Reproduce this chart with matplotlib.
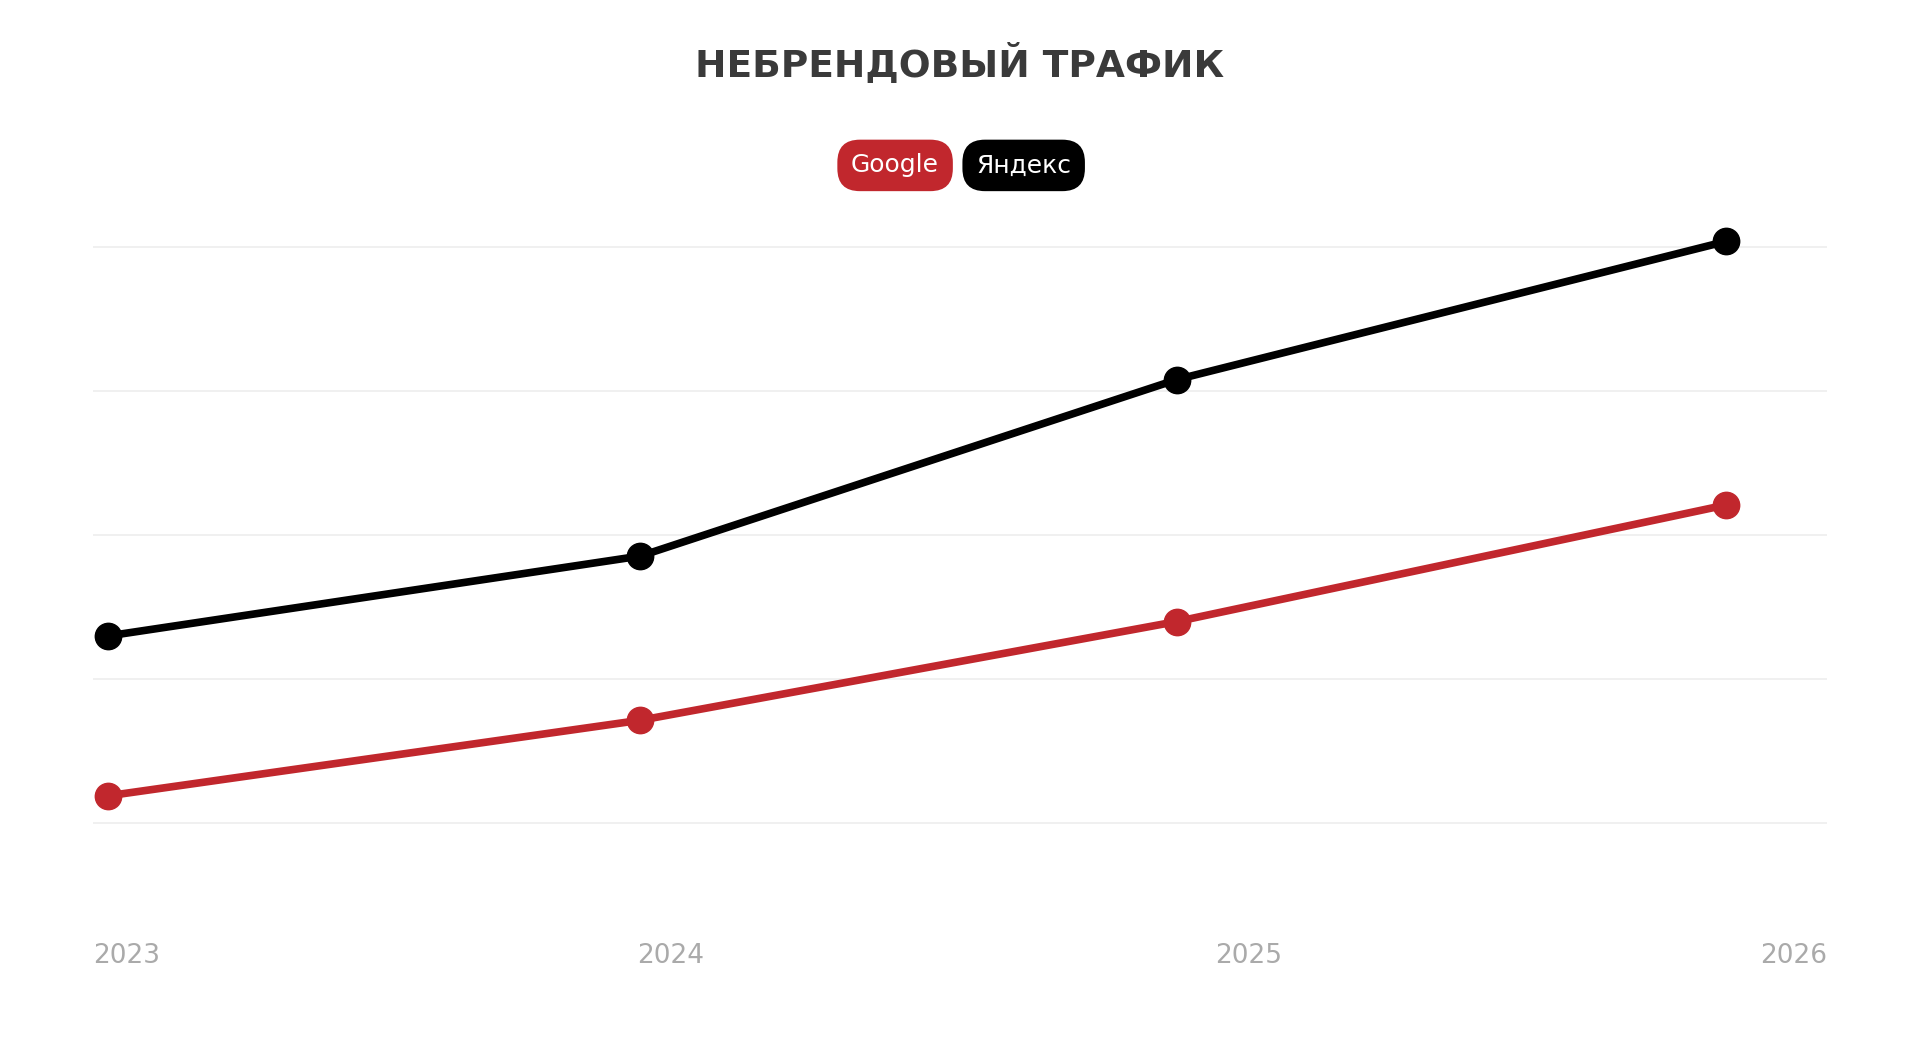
import matplotlib
matplotlib.use("Agg")
import matplotlib.pyplot as plt

title = "НЕБРЕНДОВЫЙ ТРАФИК"
series_names = ["Google", "Яндекс"]
x_pos = [0.025, 0.947, 1.875, 2.826]
google = [0.19, 0.715, 1.40, 2.21]
yandex = [1.30, 1.855, 3.08, 4.04]
tick_labels = ["2023", "2024", "2025", "2026"]
RED = "#c1272d"; BLACK = "#000000"

fig = plt.figure(figsize=(19.2, 10.39), dpi=100)
ax = fig.add_axes([0.0485, 0.173, 0.903, 0.61])
ax.set_xlim(0, 3)
ax.set_ylim(-0.25, 4.15)
for y in range(5):
    ax.axhline(y, color="#eeeeee", lw=1.2, zorder=0)
for vals, c in [(google, RED), (yandex, BLACK)]:
    ax.plot(x_pos, vals, color=c, lw=5.5, marker="o", ms=19, zorder=3)
for s in ax.spines.values():
    s.set_visible(False)
ax.set_yticks([])
ax.set_xticks([0, 1, 2, 3])
ax.set_xticklabels(tick_labels, color="#aaaaaa", fontsize=19)
ax.tick_params(axis="x", length=0, pad=60)
labs = ax.get_xticklabels()
labs[0].set_ha("left"); labs[-1].set_ha("right")

fig.text(0.5, 0.9375, title, ha="center", va="center", fontsize=27,
         fontweight="bold", color="#3a3a3a")
for name, c, xc in [(series_names[0], RED, 731/1568), (series_names[1], BLACK, 836/1568)]:
    fig.text(xc, 1-135/848, name, ha="center", va="center", color="white", fontsize=18,
             bbox=dict(boxstyle="round,pad=0.55,rounding_size=0.9", fc=c, ec="none"))
fig.savefig("out.png", dpi=100, facecolor="white")
